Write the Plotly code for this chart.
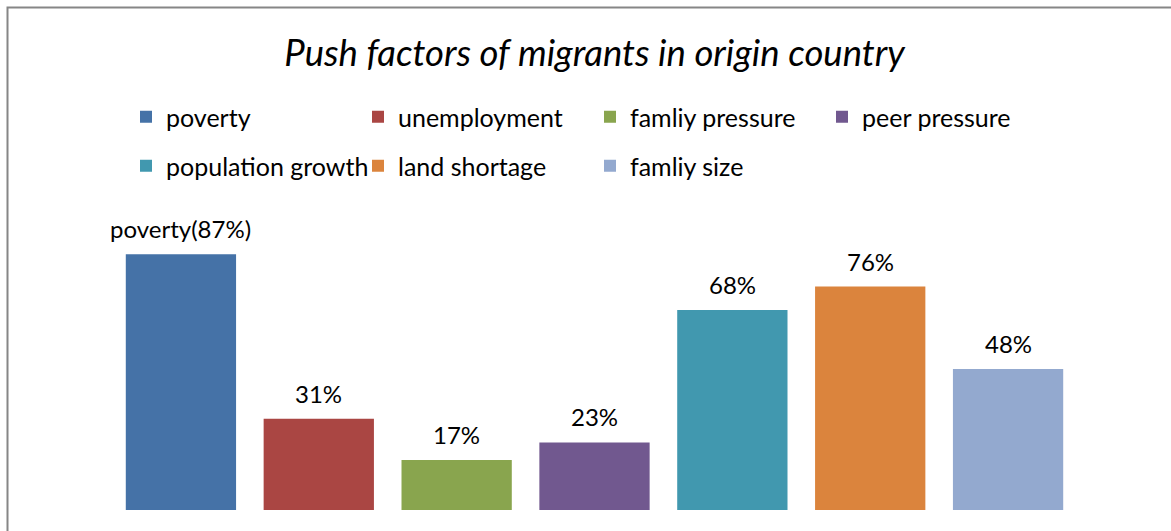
import plotly.graph_objects as go

categories = ["poverty", "unemployment", "famliy pressure", "peer pressure",
              "population growth", "land shortage", "famliy size"]
values = [87, 31, 17, 23, 68, 76, 48]
labels = ["poverty(87%)", "31%", "17%", "23%", "68%", "76%", "48%"]
colors = ["#4572A7", "#AA4643", "#89A54E", "#71588F", "#4198AF", "#DB843D", "#93A9CF"]
title = "Push factors of migrants in origin country"

FONT = "Lato"
W, H = 1171, 531
ML, MR, MT, MB = 112, 94, 216, 21
PW, PH = W - ML - MR, H - MT - MB

fig = go.Figure()
for i, (c, v, col) in enumerate(zip(categories, values, colors)):
    fig.add_trace(go.Bar(
        x=[c], y=[v], name=c, marker=dict(color=col, line=dict(width=0)),
        legend="legend" if i < 4 else "legend2",
        hoverinfo="skip",
    ))

for c, v, t in zip(categories, values, labels):
    fig.add_annotation(x=c, y=v, text=t, showarrow=False, yanchor="bottom",
                       yshift=9, font=dict(family=FONT, size=24, color="#000000"))

def px_to_paper_x(px):
    return (px - ML) / PW

def px_to_paper_y(py):
    return (H - MB - py) / PH

leg_common = dict(orientation="h", entrywidth=187, entrywidthmode="pixels",
                  font=dict(family=FONT, size=25, color="#000000"),
                  bgcolor="rgba(0,0,0,0)", xanchor="left", yanchor="middle",
                  x=px_to_paper_x(126), traceorder="normal", itemclick=False)

fig.update_layout(
    width=W, height=H,
    margin=dict(l=ML, r=MR, t=MT, b=MB, autoexpand=False),
    paper_bgcolor="white", plot_bgcolor="white",
    barmode="overlay", bargap=0.2,
    showlegend=True,
    legend=dict(**leg_common, y=px_to_paper_y(117)),
    legend2=dict(**leg_common, y=px_to_paper_y(166)),
    title=dict(text=title, x=0.5, xref="paper", xanchor="center",
               y=1 - 53 / H, yref="container", yanchor="middle",
               font=dict(family=FONT, size=36.5, style="italic", color="#000000")),
    xaxis=dict(type="category", categoryorder="array", categoryarray=categories,
               range=[-0.5, len(categories) - 0.5], autorange=False,
               showticklabels=False, showgrid=False, zeroline=False, showline=False,
               ticks=""),
    yaxis=dict(range=[0, 100], autorange=False, visible=False, showgrid=False,
               zeroline=False),
    shapes=[dict(type="rect", xref="paper", yref="paper",
                 x0=px_to_paper_x(7.5), y0=px_to_paper_y(560),
                 x1=px_to_paper_x(1200), y1=px_to_paper_y(7.5),
                 line=dict(color="#868686", width=2), fillcolor="rgba(0,0,0,0)",
                 layer="below")],
)

fig.write_html("out.html")
